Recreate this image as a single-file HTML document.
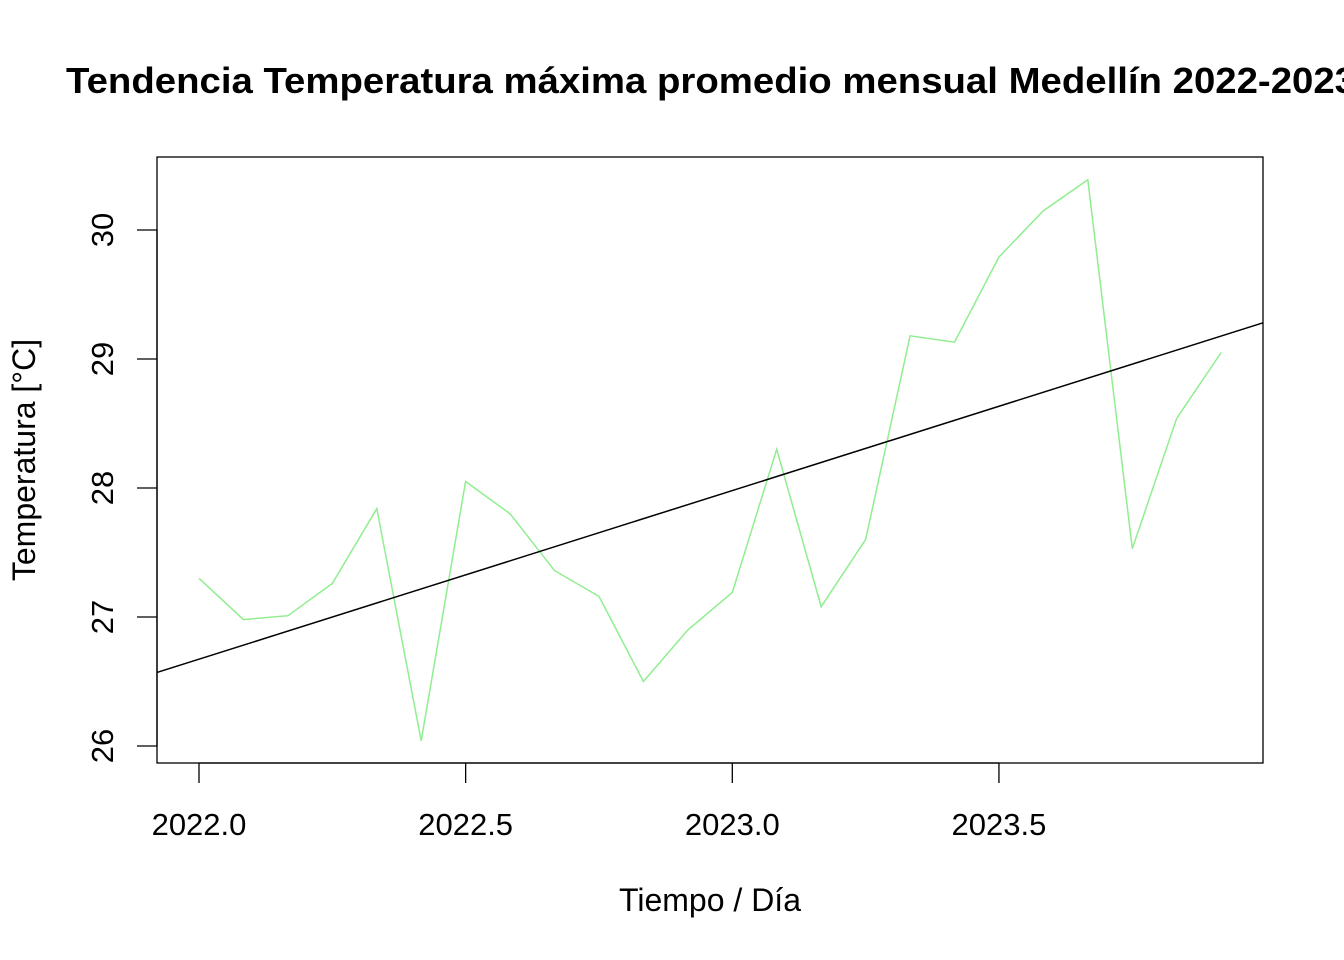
<!DOCTYPE html>
<html><head><meta charset="utf-8"><style>html,body{margin:0;padding:0;background:#fff;overflow:hidden}svg{display:block}text{font-family:"Liberation Sans",Arial,sans-serif;fill:#000}</style></head>
<body>
<svg id="chart" width="1344" height="960" viewBox="0 0 1344 960">
<text x="66" y="93" font-size="36" font-weight="bold" textLength="1290" lengthAdjust="spacingAndGlyphs">Tendencia Temperatura máxima promedio mensual Medellín 2022-2023</text>
<rect x="157" y="157" width="1106" height="606" fill="none" stroke="#000" stroke-width="1.3"/>
<g id="xaxis"></g>
<g id="yaxis"></g>
<g id="series"></g>
<text x="710" y="911" font-size="32" text-anchor="middle">Tiempo / Día</text>
<text transform="translate(35,460) rotate(-90)" font-size="32" text-anchor="middle">Temperatura [°C]</text>
</svg>
<script>
const startYear = 2022;
const temps = [27.30,26.98,27.01,27.26,27.84,26.04,28.05,27.80,27.36,27.16,26.50,26.90,27.19,28.30,27.08,27.60,29.18,29.13,29.79,30.15,30.39,27.53,28.54,29.05];
const xTicks = [2022.0,2022.5,2023.0,2023.5];
const xTickLabels = ["2022.0","2022.5","2023.0","2023.5"];
const yTicks = [26,27,28,29,30];
const trendIntercept = 26.673;
const trendSlope = 1.307;

const NS="http://www.w3.org/2000/svg";
const X0=157,X1=1263;
function xs(v){return 199+(v-2022)*533.3;}
function ys(v){return 746-(v-26)*129;}
function mk(t,a,p){const e=document.createElementNS(NS,t);for(const k in a)e.setAttribute(k,a[k]);p.appendChild(e);return e;}
const xa=document.getElementById('xaxis'),ya=document.getElementById('yaxis'),sr=document.getElementById('series');
mk('line',{x1:xs(xTicks[0]),x2:xs(xTicks[xTicks.length-1]),y1:763,y2:763,stroke:'#000','stroke-width':1.3},xa);
xTicks.forEach((v,i)=>{
 const l=mk('line',{x1:xs(v),x2:xs(v),y1:763,y2:783,stroke:'#000','stroke-width':1.3},xa);
 
 
 const t=mk('text',{x:xs(v),y:835,'font-size':31,'text-anchor':'middle'},xa);
 t.textContent=xTickLabels[i];
 
 
});
mk('line',{x1:157,x2:157,y1:ys(yTicks[0]),y2:ys(yTicks[yTicks.length-1]),stroke:'#000','stroke-width':1.3},ya);
yTicks.forEach(v=>{
 const l=mk('line',{x1:137,x2:157,y1:ys(v),y2:ys(v),stroke:'#000','stroke-width':1.3},ya);
 
 
 const t=mk('text',{transform:`translate(113,${ys(v)}) rotate(-90)`,'font-size':31,'text-anchor':'middle'},ya);
 t.textContent=String(v);
 
 
});
const pts=temps.map((v,i)=>xs(startYear+i/12).toFixed(1)+','+ys(v).toFixed(1)).join(' ');
const pl=mk('polyline',{points:pts,fill:'none',stroke:'#90ee90','stroke-width':1.5},sr);


const vx0=2022+(X0-199)/533.3,vx1=2022+(X1-199)/533.3;
const tl=mk('line',{x1:X0,x2:X1,y1:ys(trendIntercept+trendSlope*(vx0-2022)),y2:ys(trendIntercept+trendSlope*(vx1-2022)),stroke:'#000','stroke-width':1.5},sr);


</script>
</body></html>
